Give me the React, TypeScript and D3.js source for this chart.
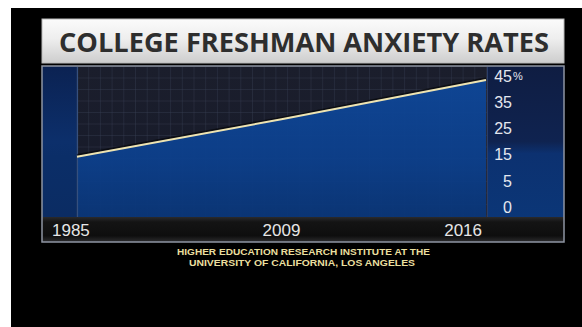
import React from "react";
import * as d3 from "d3";

// ---- data ----
const years: number[] = [1985, 2009, 2016];
const anxietyRates: number[] = [14.2, 28.5, 43.5];
const yTickValues: number[] = [0, 5, 15, 25, 35, 45];
const xTickLabels: string[] = ["1985", "2009", "2016"];
const titleText = "COLLEGE FRESHMAN ANXIETY RATES";
const sourceLines: string[] = [
  "HIGHER EDUCATION RESEARCH INSTITUTE AT THE",
  "UNIVERSITY OF CALIFORNIA, LOS ANGELES",
];

const W = 582;
const H = 327;

export default function App() {
  const panel = { x0: 42, x1: 564, y0: 66, y1: 242 };
  const plot = { x0: 77, x1: 487, y0: 67, y1: 217 };

  // the graphic spaces its ticks evenly (non-linear axis); reproduce with a polylinear scale
  const yTop = 76;
  const yBottom = 207;
  const step = (yBottom - yTop) / (yTickValues.length - 1);
  const y = d3
    .scaleLinear()
    .domain(yTickValues)
    .range(yTickValues.map((_, i) => yBottom - i * step));

  // year positions as placed in the graphic
  const x = d3
    .scaleLinear()
    .domain(years)
    .range([plot.x0, (plot.x0 + plot.x1) / 2 - 0.5, plot.x1 - 1]);

  const pts = years.map((yr, i) => [yr, anxietyRates[i]] as [number, number]);
  const line = d3
    .line<[number, number]>()
    .x((d) => x(d[0]))
    .y((d) => y(d[1]));
  const area = d3
    .area<[number, number]>()
    .x((d) => x(d[0]))
    .y0(plot.y1)
    .y1((d) => y(d[1]));

  const gridX = d3.range(plot.x0, plot.x1, 11.7);
  const gridY = d3.range(plot.y0 + 11, plot.y1, 11.5);

  return (
    <svg
      width={W}
      height={H}
      style={{ position: "absolute", left: 0, top: 0, display: "block" }}
    >
      <defs>
        <linearGradient id="titleGrad" x1="0" y1="0" x2="0" y2="1">
          <stop offset="0" stopColor="#fbfbfb" />
          <stop offset="0.45" stopColor="#eeeeee" />
          <stop offset="1" stopColor="#cdcdcd" />
        </linearGradient>
        <linearGradient id="leftGrad" x1="0" y1="0" x2="0" y2="1">
          <stop offset="0" stopColor="#0b2252" />
          <stop offset="0.5" stopColor="#0c2f6b" />
          <stop offset="0.6" stopColor="#0b2e68" />
          <stop offset="1" stopColor="#0b2c63" />
        </linearGradient>
        <linearGradient id="rightGrad" x1="0" y1="0" x2="0" y2="1">
          <stop offset="0" stopColor="#0f1d42" />
          <stop offset="0.5" stopColor="#0f2350" />
          <stop offset="0.58" stopColor="#0c3170" />
          <stop offset="1" stopColor="#0b3677" />
        </linearGradient>
        <linearGradient id="plotBg" x1="0" y1="0" x2="0" y2="1">
          <stop offset="0" stopColor="#1b1e2c" />
          <stop offset="1" stopColor="#161a2a" />
        </linearGradient>
        <linearGradient id="areaGrad" x1="0" y1="0" x2="0" y2="1">
          <stop offset="0" stopColor="#0e4799" />
          <stop offset="0.6" stopColor="#0c3f8b" />
          <stop offset="1" stopColor="#0a3678" />
        </linearGradient>
        <linearGradient id="stripGrad" x1="0" y1="0" x2="0" y2="1">
          <stop offset="0" stopColor="#2a2a2c" />
          <stop offset="0.2" stopColor="#141414" />
          <stop offset="0.75" stopColor="#0e0e0e" />
          <stop offset="1" stopColor="#2c2c2e" />
        </linearGradient>
      </defs>

      <rect x={0} y={0} width={W} height={H} fill="#ffffff" />
      <rect x={11} y={8} width={W - 11} height={H - 8} fill="#000000" />

      {/* title */}
      <rect
        x={panel.x0}
        y={19}
        width={panel.x1 - panel.x0}
        height={44}
        fill="url(#titleGrad)"
        stroke="#b9b9b9"
        strokeWidth={1}
      />
      <text
        x={304}
        y={52}
        textAnchor="middle"
        fontFamily="'Open Sans', 'Liberation Sans', Arial, sans-serif"
        fontWeight={700}
        fontSize={26.5}
        fill="#2e2e2e"
        textLength={490}
        lengthAdjust="spacingAndGlyphs"
      >
        {titleText}
      </text>

      {/* panel background parts */}
      <rect
        x={panel.x0}
        y={panel.y0}
        width={plot.x0 - panel.x0}
        height={plot.y1 - panel.y0}
        fill="url(#leftGrad)"
      />
      <rect
        x={plot.x1}
        y={panel.y0}
        width={panel.x1 - plot.x1}
        height={plot.y1 - panel.y0}
        fill="url(#rightGrad)"
      />
      <rect
        x={plot.x0}
        y={panel.y0}
        width={plot.x1 - plot.x0}
        height={plot.y1 - panel.y0}
        fill="url(#plotBg)"
      />

      {/* grid */}
      <g stroke="#3a4258" strokeOpacity={0.38} strokeWidth={1}>
        {gridX.map((gx, i) => (
          <line key={"gx" + i} x1={gx} x2={gx} y1={plot.y0} y2={plot.y1} />
        ))}
        {gridY.map((gy, i) => (
          <line key={"gy" + i} x1={plot.x0} x2={plot.x1} y1={gy} y2={gy} />
        ))}
      </g>

      {/* area */}
      <path d={area(pts) || ""} fill="url(#areaGrad)" fillOpacity={0.95} />
      <line
        x1={plot.x0 + 0.5}
        x2={plot.x0 + 0.5}
        y1={plot.y0}
        y2={plot.y1}
        stroke="#35507f"
        strokeWidth={1.2}
      />
      <line
        x1={plot.x1 + 0.5}
        x2={plot.x1 + 0.5}
        y1={plot.y0}
        y2={plot.y1}
        stroke="#2a3d68"
        strokeWidth={1}
      />

      {/* line with shadow */}
      <path
        d={line(pts) || ""}
        fill="none"
        stroke="#000000"
        strokeOpacity={0.55}
        strokeWidth={2}
        transform="translate(0,-1.6)"
      />
      <path d={line(pts) || ""} fill="none" stroke="#eee4b2" strokeWidth={2} />

      {/* y axis labels */}
      <g
        fontFamily="'Liberation Sans', Arial, Helvetica, sans-serif"
        fontSize={16}
        fill="#e4e7ef"
      >
        {yTickValues.map((v) => (
          <text key={v} x={512} y={y(v)} dy="0.36em" textAnchor="end">
            {v}
          </text>
        ))}
        <text x={513} y={y(45)} dy="0.36em" fontSize={11}>
          %
        </text>
      </g>

      {/* x strip */}
      <rect
        x={panel.x0}
        y={plot.y1}
        width={panel.x1 - panel.x0}
        height={panel.y1 - plot.y1}
        fill="url(#stripGrad)"
      />
      <g
        fontFamily="'Liberation Sans', Arial, Helvetica, sans-serif"
        fontSize={17}
        fill="#e6e6e6"
      >
        {years.map((yr, i) => {
          const last = i === years.length - 1;
          const first = i === 0;
          return (
            <text
              key={yr}
              x={first ? panel.x0 + 10 : last ? x(yr) - 4 : x(yr)}
              y={236}
              textAnchor={first ? "start" : last ? "end" : "middle"}
            >
              {xTickLabels[i]}
            </text>
          );
        })}
      </g>

      {/* panel border */}
      <rect
        x={panel.x0}
        y={panel.y0}
        width={panel.x1 - panel.x0}
        height={panel.y1 - panel.y0}
        fill="none"
        stroke="#8e95a3"
        strokeWidth={1.5}
      />

      {/* source */}
      <g
        fontFamily="'Liberation Sans', Arial, sans-serif"
        fontWeight={700}
        fontSize={9.2}
        fill="#eadf9f"
        textAnchor="middle"
      >
        <text x={303.5} y={255.4} textLength={253} lengthAdjust="spacingAndGlyphs">
          {sourceLines[0]}
        </text>
        <text x={302} y={265.9} textLength={226} lengthAdjust="spacingAndGlyphs">
          {sourceLines[1]}
        </text>
      </g>
    </svg>
  );
}
